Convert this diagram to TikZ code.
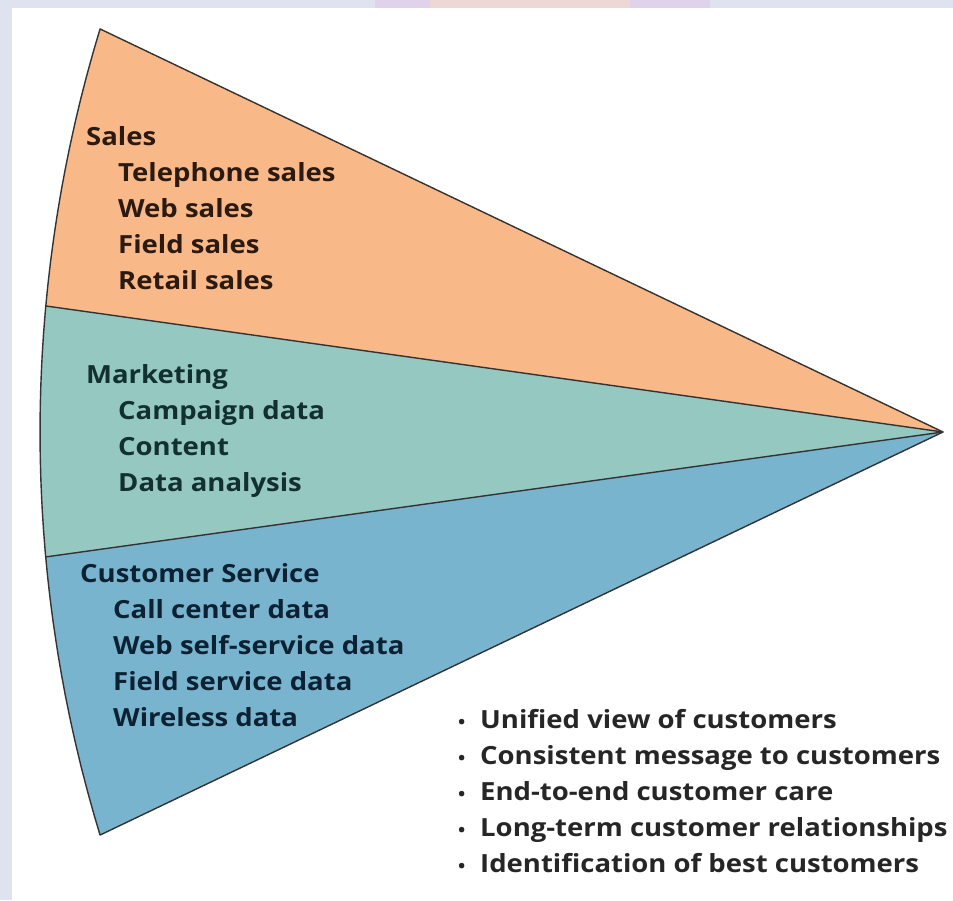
\documentclass[tikz,border=0pt]{standalone}
\usepackage{fontspec}
\setmainfont[FakeStretch=1.1]{Open Sans}
\definecolor{bandblue}{HTML}{DEE3EF}
\definecolor{bandpurple}{HTML}{E0D2EA}
\definecolor{bandpeach}{HTML}{EDD8D6}
\definecolor{salesfill}{HTML}{F9B887}
\definecolor{mktfill}{HTML}{95C8C1}
\definecolor{csfill}{HTML}{79B4CF}
\definecolor{salestext}{HTML}{2B1A12}
\definecolor{mkttext}{HTML}{12302E}
\definecolor{cstext}{HTML}{0C2233}
\definecolor{bullettext}{HTML}{262626}
\definecolor{edge}{HTML}{333333}
\begin{document}
\begin{tikzpicture}[x=1pt,y=-1pt,
  seg/.style={draw=edge,line width=1.4pt,line join=round},
  lbl/.style={anchor=base west,inner sep=0pt,font=\fontsize{25}{29}\selectfont\bfseries},
  blt/.style={lbl,text=bullettext}]
\useasboundingbox (0,0) rectangle (953,900);
% background
\fill[bandblue] (0,0) rectangle (953,900);
\fill[bandpurple] (375,0) rectangle (430,8);
\fill[bandpeach] (430,0) rectangle (630,8);
\fill[bandpurple] (630,0) rectangle (710,8);
\fill[white] (12,8) rectangle (953,900);
% fan
\coordinate (A) at (943,432);
\coordinate (L1) at (46.1,306);
\coordinate (L2) at (45.2,557);
\fill[salesfill] (A) -- plot[domain=-16.94:-5.23,samples=30,variable=\t] ({1423.4-1383.4*cos(\t)},{432+1383.4*sin(\t)}) -- cycle;
\fill[mktfill] (A) -- plot[domain=-5.23:5.19,samples=30,variable=\t] ({1423.4-1383.4*cos(\t)},{432+1383.4*sin(\t)}) -- cycle;
\fill[csfill] (A) -- plot[domain=5.19:16.94,samples=30,variable=\t] ({1423.4-1383.4*cos(\t)},{432+1383.4*sin(\t)}) -- cycle;
\draw[seg] (A) -- plot[domain=-16.94:16.94,samples=80,variable=\t] ({1423.4-1383.4*cos(\t)},{432+1383.4*sin(\t)}) -- cycle;
\draw[seg] (L1) -- (A);
\draw[seg] (L2) -- (A);
% sales
\node[lbl,text=salestext] (s0) at (86,145) {Sales};
\node[lbl,text=salestext] (s1) at (118,181) {Telephone sales};
\node[lbl,text=salestext] (s2) at (118,217) {Web sales};
\node[lbl,text=salestext] (s3) at (118,253) {Field sales};
\node[lbl,text=salestext] (s4) at (118,289) {Retail sales};
% marketing
\node[lbl,text=mkttext] (m0) at (86,383) {Marketing};
\node[lbl,text=mkttext] (m1) at (118,419) {Campaign data};
\node[lbl,text=mkttext] (m2) at (118,455) {Content};
\node[lbl,text=mkttext] (m3) at (118,491) {Data analysis};
% customer service
\node[lbl,text=cstext] (c0) at (80,582) {Customer Service};
\node[lbl,text=cstext] (c1) at (113,618) {Call center data};
\node[lbl,text=cstext] (c2) at (113,654) {Web self-service data};
\node[lbl,text=cstext] (c3) at (113,690) {Field service data};
\node[lbl,text=cstext] (c4) at (113,726) {Wireless data};
% benefits
\node[blt] (b1) at (458,728) {\makebox[22pt][l]{\scalebox{0.7}{•}}Unified view of customers};
\node[blt] (b2) at (458,764) {\makebox[22pt][l]{\scalebox{0.7}{•}}Consistent message to customers};
\node[blt] (b3) at (458,800) {\makebox[22pt][l]{\scalebox{0.7}{•}}End-to-end customer care};
\node[blt] (b4) at (458,836) {\makebox[22pt][l]{\scalebox{0.7}{•}}Long-term customer relationships};
\node[blt] (b5) at (458,872) {\makebox[22pt][l]{\scalebox{0.7}{•}}Identification of best customers};
\end{tikzpicture}
\end{document}
